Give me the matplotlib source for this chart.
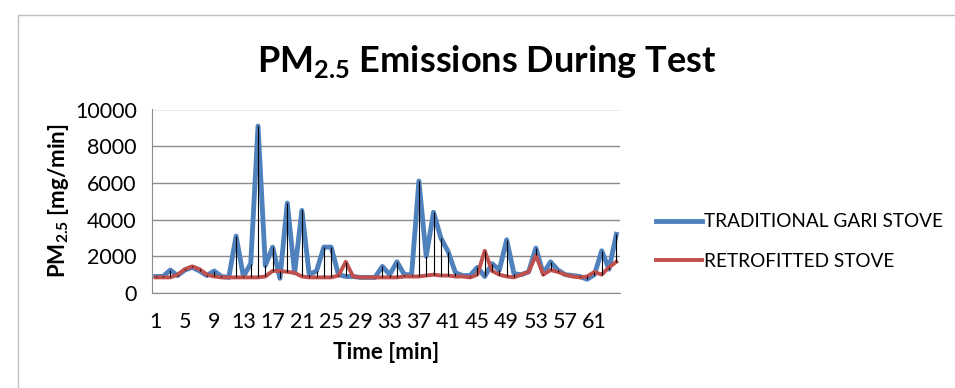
import numpy as np
import matplotlib
matplotlib.use('Agg')
import matplotlib.pyplot as plt
from matplotlib.patches import Rectangle

# Minutes 1..64 and PM2.5 readings (mg/min)
minutes = list(range(1, 65))
traditional = [900, 900, 1250, 950, 1250, 1400, 1200, 950, 1200, 900,
               850, 3100, 900, 1600, 9100, 1500, 2500, 800, 4900, 1100,
               4500, 1000, 1200, 2500, 2500, 1000, 900, 900, 850, 850,
               850, 1450, 1000, 1700, 1000, 1000, 6100, 2000, 4400, 3000,
               2250, 1100, 950, 950, 1400, 900, 1600, 1250, 2900, 1050,
               1000, 1150, 2450, 1050, 1700, 1250, 1000, 950, 900, 750,
               1000, 2300, 1300, 3200]
retrofitted = [850, 850, 850, 1000, 1300, 1450, 1300, 1000, 900, 850,
               850, 850, 850, 850, 850, 900, 1200, 1200, 1150, 1100,
               900, 850, 850, 850, 850, 950, 1700, 900, 850, 850,
               850, 850, 850, 850, 900, 900, 900, 950, 1000, 950,
               950, 900, 900, 850, 1000, 2300, 1200, 1000, 900, 850,
               1000, 1150, 2050, 1000, 1250, 1150, 1000, 900, 850, 900,
               1150, 1000, 1400, 1700]
y_ticks = [0, 2000, 4000, 6000, 8000, 10000]

plt.rcParams['font.family'] = ['Lato', 'DejaVu Sans']
plt.rcParams['mathtext.fontset'] = 'custom'
plt.rcParams['mathtext.rm'] = 'Lato'
plt.rcParams['mathtext.bf'] = 'Lato:bold'

fig = plt.figure(figsize=(9.55, 3.88), dpi=100)
fig.patches.append(Rectangle((18 / 955, -0.1), 1.1, (388 - 15) / 388 + 0.1,
                             transform=fig.transFigure, fill=False,
                             edgecolor='#bfbfbf', linewidth=1))

ax = fig.add_axes([152 / 955, (388 - 293) / 388, 468 / 955, 183.5 / 388])

x = np.arange(len(minutes))
ax.plot(x, traditional, color='#4F81BD', lw=3.5, label='TRADITIONAL GARI STOVE', zorder=3)
ax.plot(x, retrofitted, color='#C0504D', lw=2.8, label='RETROFITTED STOVE', zorder=4)

# high-low lines between the two series
lo = np.minimum(traditional, retrofitted)
hi = np.maximum(traditional, retrofitted)
ax.vlines(x, lo, hi, color='black', lw=0.8, zorder=5)

ax.set_xlim(-0.5, len(minutes) - 0.5)
ax.set_ylim(0, 10000)
ax.set_yticks(y_ticks)
ax.set_xticks(x[::4])
ax.set_xticklabels([str(m) for m in minutes[::4]])
ax.tick_params(axis='both', length=0, labelsize=15.5, colors='black')
ax.tick_params(axis='x', pad=14)
ax.tick_params(axis='y', pad=11)
ax.grid(axis='y', color='#8c8c8c', lw=1)
ax.set_axisbelow(True)
for side in ['top', 'right']:
    ax.spines[side].set_visible(False)
for side in ['left', 'bottom']:
    ax.spines[side].set_color('#8c8c8c')

ax.set_xlabel('Time [min]', fontsize=16, fontweight='bold', labelpad=7)
ax.set_ylabel(r'PM$_{\mathbf{2.5}}$ [mg/min]', fontsize=16, fontweight='bold', labelpad=3)

fig.text(487 / 955, 1 - 62 / 388, r'PM$_{\mathbf{2.5}}$ Emissions During Test',
         ha='center', va='center', fontsize=26, fontweight='bold')

ax.legend(loc='center left', bbox_to_anchor=(1.04, 0.28), frameon=False,
          fontsize=13.7, handlelength=2.4, handletextpad=0.15, labelspacing=1.2)

fig.savefig('out.png', dpi=100)
